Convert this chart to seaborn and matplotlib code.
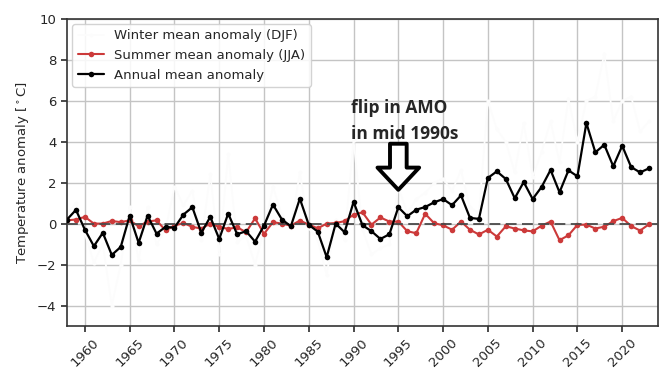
import numpy as np
import pandas as pd
import matplotlib
matplotlib.use("Agg")
import matplotlib.pyplot as plt
import seaborn as sns

years = list(range(1958, 2024))

annual = [0.2, 0.67, -0.3, -1.1, -0.45, -1.53, -1.14, 0.39, -0.94, 0.39,
          -0.49, -0.16, -0.2, 0.44, 0.8, -0.45, 0.33, -0.75, 0.49, -0.52,
          -0.37, -0.88, -0.1, 0.93, 0.2, -0.13, 1.22, -0.06, -0.39, -1.64,
          0.0, -0.42, 1.06, -0.08, -0.37, -0.75, -0.52, 0.8, 0.36, 0.68,
          0.81, 1.04, 1.2, 0.9, 1.38, 0.28, 0.23, 2.23, 2.55, 2.18,
          1.24, 2.03, 1.2, 1.79, 2.62, 1.53, 2.6, 2.31, 4.91, 3.48,
          3.85, 2.8, 3.8, 2.76, 2.5, 2.7]

summer = [0.16, 0.2, 0.33, 0.0, 0.0, 0.13, 0.07, 0.16, -0.13, 0.1,
          0.16, -0.33, -0.1, 0.03, -0.16, -0.24, 0.0, -0.16, -0.26, -0.18,
          -0.42, 0.26, -0.5, 0.07, 0.0, -0.1, 0.15, -0.05, -0.23, 0.0,
          0.03, 0.12, 0.44, 0.55, -0.05, 0.3, 0.1, 0.1, -0.37, -0.47,
          0.48, 0.02, -0.08, -0.3, 0.1, -0.3, -0.53, -0.3, -0.63, -0.13,
          -0.24, -0.33, -0.38, -0.1, 0.1, -0.81, -0.57, -0.06, -0.05, -0.24,
          -0.15, 0.12, 0.28, -0.12, -0.34, -0.03]

winter = [0.5, 1.0, -0.5, -1.9, -1.0, -4.0, -2.0, 0.8, -1.8, 0.8,
          -1.0, -0.3, 1.8, 0.9, 1.6, -0.8, 2.4, -1.5, 3.4, -0.9,
          -0.6, -2.0, -0.3, 1.8, 0.4, -0.2, 2.5, -0.2, -0.8, -2.5,
          0.2, -0.8, 4.1, -0.3, -1.5, -1.2, -1.0, 1.8, 0.5, 1.2,
          1.5, 2.0, 2.2, 1.6, 2.6, 0.8, 0.5, 6.0, 4.6, 4.0,
          2.5, 4.9, 2.3, 3.5, 5.0, 3.0, 6.1, 4.0, 6.0, 6.2,
          8.3, 5.0, 6.0, 6.2, 4.5, 5.0]

xticks = list(range(1960, 2021, 5))
yticks = list(range(-4, 11, 2))

annot_text = "flip in AMO\nin mid 1990s"
annot_year = 1995
arrow_tail = 3.9
arrow_tip = 1.65

df = pd.DataFrame({"year": years, "winter": winter,
                   "summer": summer, "annual": annual})

sns.set_theme(style="ticks")
plt.rcParams['font.family'] = ['DejaVu Sans']

fig = plt.figure(figsize=(6.72, 3.84), dpi=100)
ax = fig.add_axes([0.0997, 0.151, 0.8795, 0.80])

ax.grid(True, color="#c4c4c4", linewidth=1.0, zorder=0)
ax.set_axisbelow(True)

sns.lineplot(data=df, x="year", y="winter", ax=ax, color="#fcfcfc",
             marker="o", markersize=3, markeredgewidth=0, linewidth=1.3,
             label="Winter mean anomaly (DJF)", zorder=2)
sns.lineplot(data=df, x="year", y="summer", ax=ax, color="#cc3a3a",
             marker="o", markersize=4, markeredgewidth=0, linewidth=1.5,
             label="Summer mean anomaly (JJA)", zorder=3)
sns.lineplot(data=df, x="year", y="annual", ax=ax, color="black",
             marker="o", markersize=4, markeredgewidth=0, linewidth=1.6,
             label="Annual mean anomaly", zorder=4)

ax.axhline(0, color="#4a4a4a", linestyle=(0, (6, 3)), linewidth=1.3, zorder=3.5)

ax.set_xlim(1958, 2024)
ax.set_ylim(-5, 10)
ax.set_xticks(xticks)
ax.set_yticks(yticks)
ax.tick_params(axis="x", labelsize=9.5, length=4, color="#333333")
ax.tick_params(axis="y", labelsize=9.5, length=4, color="#333333")
for lab in ax.get_xticklabels():
    lab.set_rotation(45)
    lab.set_ha("center")
ax.set_xlabel("")
ax.set_ylabel("Temperature anomaly [$^\\circ$C]", fontsize=9.5)
for s in ax.spines.values():
    s.set_color("#333333")
    s.set_linewidth(1.2)

leg = ax.legend(loc="upper left", fontsize=9.5, frameon=True, framealpha=0.85,
                edgecolor="#cccccc", borderaxespad=0.4)

ax.text(1989.75, 5.0, annot_text, fontsize=12.5, fontweight="bold",
        family=["Open Sans", "DejaVu Sans"], ha="left", va="center",
        linespacing=1.6, zorder=6)
ax.annotate("", xy=(annot_year, arrow_tip), xytext=(annot_year, arrow_tail),
            arrowprops=dict(arrowstyle="simple,head_width=3.0,head_length=1.6,tail_width=1.2",
                            mutation_scale=10, fc="white", ec="black", lw=2.8,
                            shrinkA=0, shrinkB=0), zorder=6)

fig.savefig("out.png", dpi=100)
